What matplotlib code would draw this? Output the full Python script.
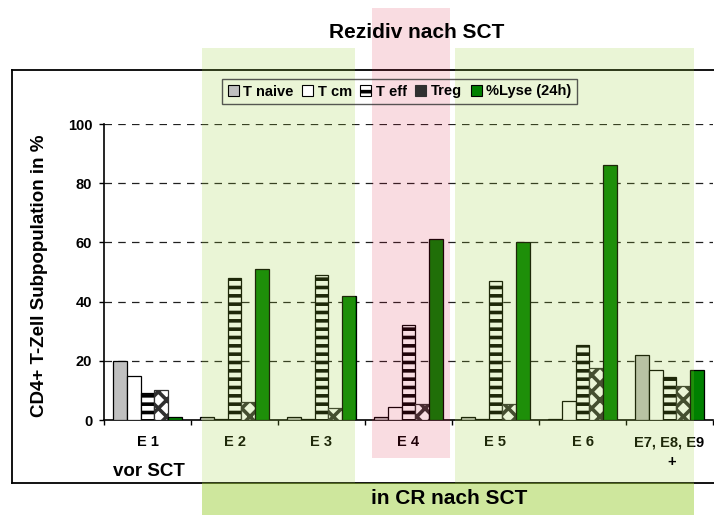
import matplotlib
matplotlib.use("Agg")
import matplotlib.pyplot as plt
import numpy as np
from matplotlib.patches import Rectangle, Patch
from matplotlib.lines import Line2D

plt.rcParams['font.family'] = ['Liberation Sans', 'DejaVu Sans']
plt.rcParams['font.weight'] = 'bold'
plt.rcParams['hatch.linewidth'] = 2.6

groups = ["E 1", "E 2", "E 3", "E 4", "E 5", "E 6", "E7, E8, E9"]
series = ["T naive", "T cm", "T eff", "Treg", "%Lyse (24h)"]
t_naive = [20, 1, 1, 1, 1, 0.5, 22]
t_cm = [15, 0.3, 0.5, 4.5, 0.5, 6.5, 17]
t_eff = [9, 48, 49, 32, 47, 25.5, 14.5]
treg = [10, 6, 4, 5.3, 5.3, 17.5, 11.5]
lyse = [1, 51, 42, 61, 60, 86, 17]
yticks = [0, 20, 40, 60, 80, 100]

W, H = 714, 515
fig = plt.figure(figsize=(W / 100, H / 100), dpi=100)

def fx(px):
    return px / W

def fy(py):
    return 1 - py / H

ax = fig.add_axes([fx(104), fy(420), fx(713) - fx(104), fy(124) - fy(420)])
ax.set_facecolor('none')

values = [t_naive, t_cm, t_eff, treg, lyse]
styles = [
    dict(facecolor='#c0c0c0', edgecolor='black', hatch=None),
    dict(facecolor='white', edgecolor='black', hatch=None),
    dict(facecolor='white', edgecolor='black', hatch='--'),
    dict(facecolor='white', edgecolor='#303030', hatch='xx'),
    dict(facecolor='#008000', edgecolor='black', hatch=None),
]
bw = 0.16
x = np.arange(len(groups))
for i, (vals, st) in enumerate(zip(values, styles)):
    ax.bar(x + (i - 2) * bw, vals, width=bw, linewidth=0.9, zorder=3, **st)

ax.set_xlim(-0.5, len(groups) - 0.5)
ax.set_ylim(0, 100)
ax.set_yticks(yticks)
ax.set_yticklabels([str(v) for v in yticks], fontsize=10.5, fontweight='bold')
ax.tick_params(axis='y', length=3.5, width=1, pad=5)
ax.set_xticks(np.arange(-0.5, len(groups), 1.0))
ax.set_xticklabels([])
ax.tick_params(axis='x', which='major', length=3.5, width=1, direction='out')
ax.set_xticks(x, minor=True)
ax.set_xticklabels(groups, minor=True, fontsize=10.5, fontweight='bold')
ax.tick_params(axis='x', which='minor', length=0, pad=11)
for v in yticks[1:]:
    ax.axhline(v, color='#202020', linestyle=(0, (6, 5)), linewidth=0.9, zorder=1)
for s in ['top', 'right']:
    ax.spines[s].set_visible(False)
ax.spines['left'].set_linewidth(1.2)
ax.spines['bottom'].set_linewidth(1.2)

# outer frame
fig.add_artist(Line2D([fx(12), 1.0], [fy(70), fy(70)], color='black', lw=1.3))
fig.add_artist(Line2D([fx(12), fx(12)], [fy(70), fy(483)], color='black', lw=1.3))
fig.add_artist(Line2D([fx(12), 1.0], [fy(483), fy(483)], color='black', lw=1.3))

# background overlays
def region(x0, x1, y0, y1, color, alpha):
    fig.add_artist(Rectangle((fx(x0), fy(y1)), fx(x1) - fx(x0), fy(y0) - fy(y1),
                             transform=fig.transFigure, facecolor=color,
                             edgecolor='none', alpha=alpha, zorder=10))

region(202, 355, 48, 483, '#9acd32', 0.2)
region(455, 694, 48, 483, '#9acd32', 0.2)
region(202, 694, 483, 515, '#9acd32', 0.48)
region(372, 450, 8, 458, '#dc143c', 0.15)

# legend
handles = [Patch(**st, linewidth=0.8) for st in styles]
handles[2] = Patch(facecolor='white', edgecolor='black', hatch='-', linewidth=0.8)
handles[3] = Patch(facecolor='#303030', edgecolor='#303030', linewidth=0.8)
leg = fig.legend(handles, series, loc='center', bbox_to_anchor=(fx(399.5), fy(91.5)),
                 ncol=5, frameon=True, fancybox=False,
                 handlelength=0.75, handleheight=0.75, handletextpad=0.3,
                 columnspacing=0.6, borderpad=0.4, prop={'weight': 'bold', 'size': 10.5})
leg.get_frame().set_edgecolor('#303030')
leg.get_frame().set_facecolor('none')
leg.get_frame().set_linewidth(1.0)
leg.set_zorder(20)

fig.text(fx(417), fy(33), "Rezidiv nach SCT", ha='center', va='center',
         fontsize=15, fontweight='bold', zorder=20)
fig.text(fx(449), fy(499), "in CR nach SCT", ha='center', va='center',
         fontsize=15, fontweight='bold', zorder=20)
fig.text(fx(148.5), fy(471), "vor SCT", ha='center', va='center',
         fontsize=13.5, fontweight='bold')
fig.text(fx(672), fy(462), "+", ha='center', va='center',
         fontsize=10.5, fontweight='bold', zorder=20)
fig.text(fx(40), fy(276), "CD4+ T-Zell Subpopulation in %", ha='center', va='center',
         rotation=90, fontsize=13.5, fontweight='bold')

fig.savefig("out.png", dpi=100)
